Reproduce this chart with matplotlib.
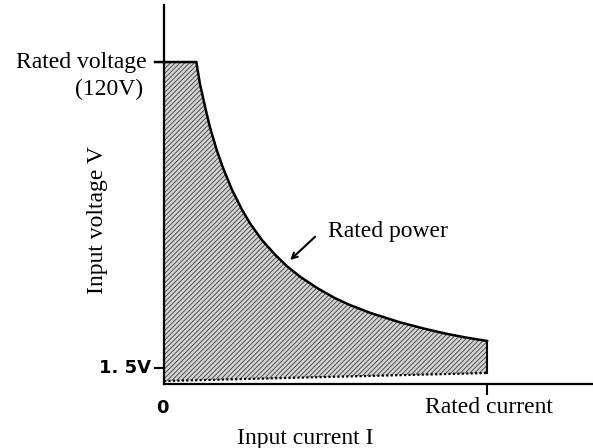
import matplotlib.pyplot as plt

# rated power curve (current in A, voltage in V)
curve_i = [1.0, 1.11, 1.27, 1.42, 1.64, 1.83, 2.11, 2.42, 2.66, 3.03, 3.44,
           3.81, 4.21, 4.74, 5.29, 5.76, 6.38, 7.31, 8.08, 8.70, 9.32, 10.0]
curve_v = [120, 111.7, 102.7, 94.8, 85.6, 78.9, 70.4, 62.7, 57.6, 51.1, 45.4,
           40.9, 36.9, 32.5, 28.6, 25.9, 22.9, 19.2, 16.7, 14.9, 13.4, 12.0]

rated_v = 120
min_v = 1.5
rated_i = 10.0
# dotted lower boundary
low_i = [0.0, 10.0]
low_v = [-3.5, -0.4]

plt.rcParams['hatch.linewidth'] = 0.6
serif = ['Liberation Serif', 'DejaVu Serif']
narrow = ['Liberation Sans Narrow', 'DejaVu Sans']

fig = plt.figure(figsize=(5.93, 4.48), dpi=100)
ax = fig.add_axes([0.2766, 0.1429, 0.7234, 0.846])
ax.set_xlim(0, 13.28)
ax.set_ylim(-4.65, 142.1)

# shaded operating region
poly_i = [0.0] + curve_i + [rated_i, low_i[1], low_i[0]]
poly_v = [rated_v] + curve_v + [low_v[1], low_v[1], low_v[0]]
ax.fill(poly_i, poly_v, facecolor='#d4d4d4', edgecolor='#3a3a3a',
        hatch='///////', linewidth=0)

ax.plot([-0.28] + curve_i, [rated_v] + curve_v, color='black', lw=1.8,
        clip_on=False, solid_joinstyle='miter')
ax.plot([rated_i, rated_i], [curve_v[-1], low_v[1]], color='black', lw=1.5)
ax.plot(low_i, low_v, color='black', lw=1.6, ls=(0, (1, 1)))

# axes
for s in ['top', 'right']:
    ax.spines[s].set_visible(False)
for s in ['left', 'bottom']:
    ax.spines[s].set_linewidth(1.6)
ax.set_xticks([])
ax.set_yticks([])

# hand-drawn ticks
ax.plot([-0.28, 0], [min_v, min_v], color='black', lw=1.5, clip_on=False)
ax.plot([rated_i, rated_i], [-4.65, -8.5], color='black', lw=1.5, clip_on=False)

ax.text(-0.53, rated_v, 'Rated voltage', ha='right', va='center',
        fontsize=17, family=serif)
ax.text(-0.65, 109.2, '(120V)', ha='right', va='center', fontsize=17, family=serif)
ax.text(-0.40, min_v, '1. 5V', ha='right', va='center', fontsize=13,
        family=narrow, fontweight='bold')
ax.text(-0.06, -13.9, '0', ha='center', va='center', fontsize=13,
        family=narrow, fontweight='bold')
ax.text(10.06, -13.9, 'Rated current', ha='center', va='center',
        fontsize=17, family=serif)
ax.text(4.37, -25.6, 'Input current I', ha='center', va='center',
        fontsize=17, family=serif)
ax.text(-2.07, 58.9, 'Input voltage V', ha='center', va='center',
        rotation=90, fontsize=17, family=serif)

ax.annotate('', xy=(3.84, 42.6), xytext=(4.74, 53.1),
            arrowprops=dict(arrowstyle='->', color='black', lw=1.5))
ax.text(5.08, 54.2, 'Rated power', ha='left', va='center',
        fontsize=17, family=serif)

fig.savefig('out.png', dpi=100)
